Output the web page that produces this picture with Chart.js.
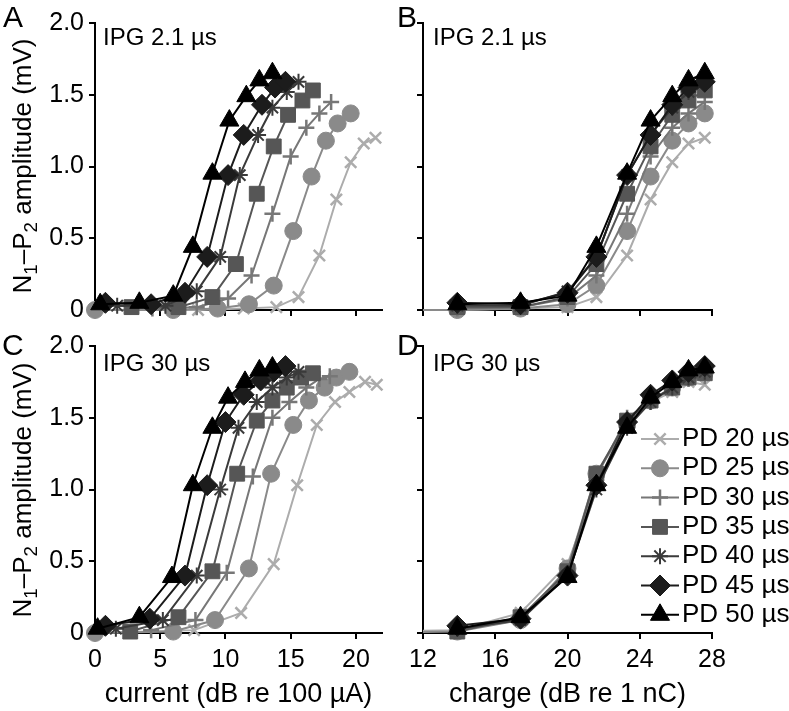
<!DOCTYPE html>
<html>
<head>
<meta charset="utf-8">
<title>N1-P2 amplitude growth functions</title>
<script src="https://cdn.jsdelivr.net/npm/chart.js@4.4.1/dist/chart.umd.min.js"></script>
<style>
    body { margin: 0; background: #fff; }
    #wrap { position: relative; width: 789px; height: 711px; overflow: hidden; font-family: 'Liberation Sans', Arial, sans-serif; color: #000; }
    #wrap canvas { position: absolute; left: 0; top: 0; }
    .lbl { position: absolute; white-space: nowrap; line-height: 1; z-index: 5; }
    .letter { font-size: 30px; }
    .ipg { font-size: 24px; }
    .ytitle { font-size: 26px; transform: translate(-50%, -50%) rotate(-90deg); }
    .ytitle sub { font-size: 0.72em; vertical-align: -0.3em; line-height: 0; }
</style>
</head>
<body>
<div id="wrap">
    <canvas id="chartA" width="789" height="711"></canvas>
    <canvas id="chartB" width="789" height="711"></canvas>
    <canvas id="chartC" width="789" height="711"></canvas>
    <canvas id="chartD" width="789" height="711"></canvas>

    <div class="lbl letter" style="left:3px; top:2px;">A</div>
    <div class="lbl letter" style="left:397px; top:2px;">B</div>
    <div class="lbl letter" style="left:2px; top:330px;">C</div>
    <div class="lbl letter" style="left:397px; top:330px;">D</div>

    <div class="lbl ipg" style="left:103px; top:25px;">IPG 2.1 µs</div>
    <div class="lbl ipg" style="left:433px; top:25px;">IPG 2.1 µs</div>
    <div class="lbl ipg" style="left:103px; top:351px;">IPG 30 µs</div>
    <div class="lbl ipg" style="left:433px; top:351px;">IPG 30 µs</div>

    <div class="lbl ytitle" style="left:22px; top:166px;">N<sub>1</sub>–P<sub>2</sub> amplitude (mV)</div>
    <div class="lbl ytitle" style="left:22px; top:490px;">N<sub>1</sub>–P<sub>2</sub> amplitude (mV)</div>
</div>

<script>
// Series (phase duration) labels
const seriesNames = ['PD 20 µs', 'PD 25 µs', 'PD 30 µs', 'PD 35 µs', 'PD 40 µs', 'PD 45 µs', 'PD 50 µs'];

// Charge levels used in the recordings (dB re 1 nC); PD 20 and PD 25 have one extra lower level
const chargeLevels = [13.9, 17.4, 20.0, 21.6, 23.3, 24.6, 25.8, 26.7, 27.6];
const lowCharge = [6.0, 8.0];

// IPG 2.1 us - current (dB re 100 uA) and amplitude (mV)
const currentIpg2 = [
    [0, 7.9, 11.4, 13.9, 15.6, 17.2, 18.5, 19.6, 20.6, 21.5],
    [0, 6.0, 9.4, 11.8, 13.7, 15.2, 16.6, 17.7, 18.6, 19.6],
    [4.4, 7.8, 10.2, 12.0, 13.6, 15.0, 16.2, 17.2, 18.1],
    [2.8, 6.4, 9.0, 10.8, 12.4, 13.7, 14.8, 15.9, 16.7],
    [1.7, 5.4, 7.8, 9.6, 11.1, 12.5, 13.6, 14.7, 15.6],
    [0.8, 4.3, 6.9, 8.6, 10.2, 11.4, 12.8, 13.8, 14.6],
    [0.4, 3.4, 6.0, 7.5, 9.0, 10.3, 11.6, 12.6, 13.6]
];
const ampIpg2 = [
    [0.0, 0.0, 0.01, 0.02, 0.09, 0.38, 0.77, 1.03, 1.16, 1.20],
    [0.0, 0.0, 0.01, 0.04, 0.17, 0.55, 0.93, 1.18, 1.30, 1.37],
    [0.01, 0.02, 0.08, 0.24, 0.67, 1.07, 1.27, 1.37, 1.45],
    [0.02, 0.02, 0.09, 0.32, 0.81, 1.14, 1.36, 1.46, 1.53],
    [0.03, 0.03, 0.13, 0.37, 0.94, 1.22, 1.41, 1.52, 1.59],
    [0.05, 0.04, 0.12, 0.37, 0.94, 1.22, 1.43, 1.55, 1.59],
    [0.04, 0.05, 0.10, 0.44, 0.95, 1.32, 1.49, 1.60, 1.65]
];

// IPG 30 us
const currentIpg30 = [
    [0, 7.6, 11.2, 13.7, 15.5, 17.0, 18.4, 19.5, 20.7, 21.6],
    [0, 6.0, 9.2, 11.8, 13.5, 15.2, 16.4, 17.6, 18.5, 19.5],
    [4.3, 7.7, 10.1, 12.1, 13.6, 14.9, 16.2, 17.2, 18.0],
    [2.7, 6.4, 9.0, 10.9, 12.4, 13.6, 14.7, 15.8, 16.7],
    [1.6, 5.2, 7.8, 9.6, 11.0, 12.4, 13.6, 14.7, 15.6],
    [0.8, 4.2, 6.9, 8.6, 10.0, 11.4, 12.7, 13.7, 14.6],
    [0.2, 3.4, 5.9, 7.5, 9.0, 10.2, 11.5, 12.6, 13.6]
];
const ampIpg30 = [
    [0.0, 0.02, 0.14, 0.48, 1.03, 1.45, 1.61, 1.68, 1.75, 1.73],
    [0.0, 0.01, 0.09, 0.45, 1.11, 1.45, 1.62, 1.71, 1.78, 1.82],
    [0.02, 0.09, 0.42, 1.09, 1.50, 1.61, 1.71, 1.77, 1.79],
    [0.01, 0.11, 0.43, 1.11, 1.48, 1.62, 1.71, 1.78, 1.81],
    [0.03, 0.09, 0.40, 1.00, 1.43, 1.61, 1.71, 1.78, 1.82],
    [0.05, 0.10, 0.40, 1.03, 1.47, 1.66, 1.76, 1.82, 1.86],
    [0.03, 0.11, 0.39, 1.03, 1.43, 1.64, 1.75, 1.83, 1.85]
];

// Styles
const seriesColors = ['#acacac', '#8a8a8a', '#777777', '#565656', '#3a3a3a', '#1c1c1c', '#000000'];
const seriesMarkers = ['crossRot', 'circle', 'cross', 'rect', 'star', 'rectRot', 'triangle'];
const markerRadius = [8, 8.5, 8, 10.5, 8, 10.5, 11];
const markerBorder = [2.5, 1, 2.5, 1, 2, 1, 1];
const FONT = "'Liberation Sans', Arial, sans-serif";

Chart.defaults.font.family = FONT;
Chart.defaults.color = '#000';

function chargeFor(i) {
    return i < lowCharge.length ? [lowCharge[i], ...chargeLevels] : chargeLevels;
}

function buildDatasets(xsFor, amps, clip) {
    return seriesNames.map((name, i) => {
        const xs = xsFor(i);
        const c = seriesColors[i];
        return {
            label: name,
            data: xs.map((x, j) => ({ x: x, y: amps[i][j] })),
            borderColor: c,
            backgroundColor: c,
            pointBackgroundColor: c,
            pointBorderColor: c,
            borderWidth: 2,
            pointStyle: seriesMarkers[i],
            pointRadius: markerRadius[i],
            pointBorderWidth: markerBorder[i],
            tension: 0,
            order: seriesNames.length - 1 - i,
            clip: clip
        };
    });
}

// Legend drawn inside panel D: line + marker + label
const pdLegend = {
    id: 'pdLegend',
    afterDatasetsDraw(chart) {
        const ctx = chart.ctx;
        const x0 = 641, x1 = 679, top = 439, step = 29.3;
        ctx.save();
        chart.data.datasets.forEach((ds, i) => {
            const y = top + i * step;
            ctx.strokeStyle = ds.borderColor;
            ctx.fillStyle = ds.borderColor;
            ctx.lineWidth = 2;
            ctx.beginPath();
            ctx.moveTo(x0, y);
            ctx.lineTo(x1, y);
            ctx.stroke();
            ctx.lineWidth = ds.pointBorderWidth;
            Chart.helpers.drawPoint(ctx, {
                pointStyle: ds.pointStyle,
                radius: ds.pointRadius,
                borderWidth: ds.pointBorderWidth,
                rotation: 0
            }, (x0 + x1) / 2, y);
            ctx.fillStyle = '#000';
            ctx.font = '26px ' + FONT;
            ctx.textBaseline = 'middle';
            ctx.textAlign = 'left';
            ctx.fillText(ds.label, x1 + 3, y);
        });
        ctx.restore();
    }
};

function makePanel(id, opts) {
    const axisStyle = {
        border: { display: true, color: '#000', width: 2 },
        grid: { display: true, drawOnChartArea: false, drawTicks: true, tickLength: 6, color: '#000', lineWidth: 2 }
    };
    return new Chart(document.getElementById(id), {
        type: 'line',
        data: { datasets: opts.datasets },
        plugins: opts.plugins || [],
        options: {
            responsive: false,
            animation: false,
            events: [],
            devicePixelRatio: 1,
            layout: { padding: opts.padding },
            plugins: { legend: { display: false }, tooltip: { enabled: false } },
            scales: {
                x: {
                    type: 'linear',
                    min: opts.xMin,
                    max: opts.xMax,
                    afterFit: (s) => { s.height = opts.xHeight; },
                    border: axisStyle.border,
                    grid: axisStyle.grid,
                    ticks: {
                        stepSize: opts.xStep,
                        includeBounds: false,
                        autoSkip: false,
                        maxRotation: 0,
                        padding: 6,
                        font: { size: 25 },
                        callback: (v) => opts.xLabels ? String(v) : ''
                    },
                    title: {
                        display: !!opts.xTitle,
                        text: opts.xTitle || '',
                        font: { size: 27 },
                        padding: { top: 3, bottom: 0 }
                    }
                },
                y: {
                    type: 'linear',
                    min: 0,
                    max: 2,
                    afterFit: (s) => { s.width = opts.yWidth; },
                    border: axisStyle.border,
                    grid: axisStyle.grid,
                    ticks: {
                        stepSize: 0.5,
                        padding: 5,
                        font: { size: 25 },
                        callback: (v) => opts.yLabels ? (v === 0 ? '0' : v.toFixed(1)) : ''
                    }
                }
            }
        }
    });
}

// chart areas: A/C x 95..382, B/D x 423..712; top row y 23..310, bottom row y 346..633
makePanel('chartA', {
    datasets: buildDatasets((i) => currentIpg2[i], ampIpg2, false),
    padding: { left: 35, right: 407, top: 23, bottom: 381 },
    xMin: 0, xMax: 22, xStep: 5, xHeight: 20, yWidth: 60, xLabels: false, yLabels: true
});
makePanel('chartB', {
    datasets: buildDatasets(chargeFor, ampIpg2, { left: 0, right: 20, top: 20, bottom: 20 }),
    padding: { left: 403, right: 77, top: 23, bottom: 381 },
    xMin: 12, xMax: 28, xStep: 4, xHeight: 20, yWidth: 20, xLabels: false, yLabels: false
});
makePanel('chartC', {
    datasets: buildDatasets((i) => currentIpg30[i], ampIpg30, false),
    padding: { left: 35, right: 407, top: 346, bottom: 0 },
    xMin: 0, xMax: 22, xStep: 5, xHeight: 78, yWidth: 60, xLabels: true, yLabels: true,
    xTitle: 'current (dB re 100 µA)'
});
makePanel('chartD', {
    datasets: buildDatasets(chargeFor, ampIpg30, { left: 0, right: 20, top: 20, bottom: 20 }),
    padding: { left: 403, right: 77, top: 346, bottom: 0 },
    xMin: 12, xMax: 28, xStep: 4, xHeight: 78, yWidth: 20, xLabels: true, yLabels: false,
    xTitle: 'charge (dB re 1 nC)',
    plugins: [pdLegend]
});
</script>
</body>
</html>
